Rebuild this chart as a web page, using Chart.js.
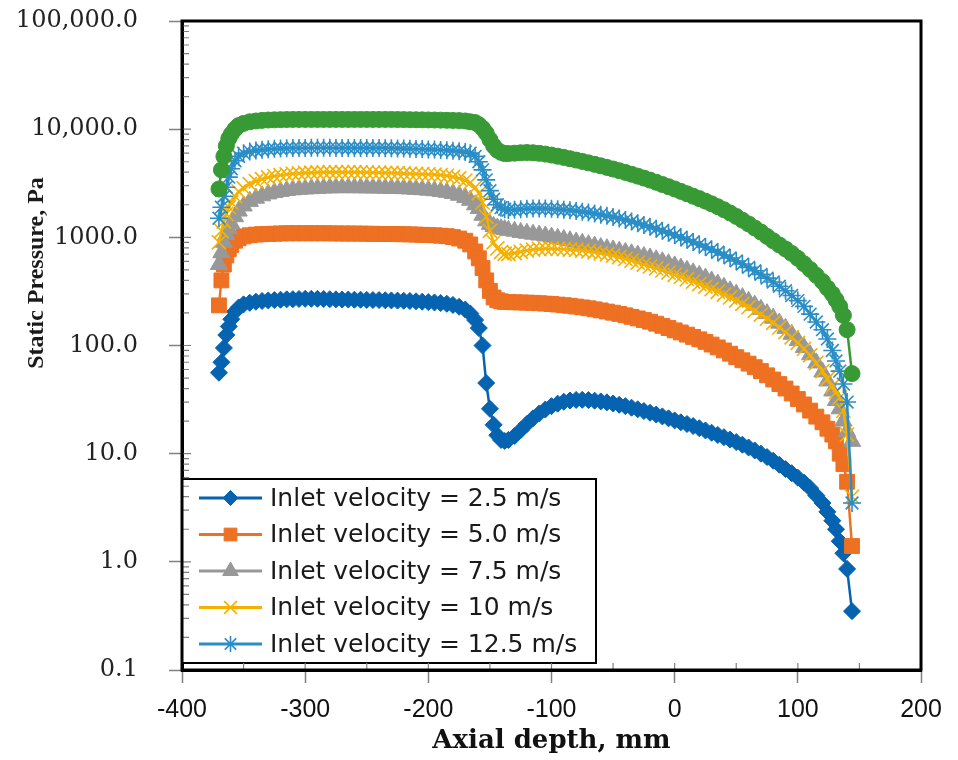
<!DOCTYPE html>
<html>
<head>
<meta charset="UTF-8">
<title>Static Pressure vs Axial depth</title>
<script src="https://cdn.jsdelivr.net/npm/chart.js@4"></script>
<style>
  html, body { margin: 0; padding: 0; background: #fff; }
  #chart { display: block; }
</style>
</head>
<body>
<canvas id="chart" width="958" height="760"></canvas>
<script>
// axial depth in mm, shared by every series
var depth = [
  -370, -368, -366, -364, -362, -360, -357, -354, -350,
  -345, -340, -335, -330, -325, -320, -315, -310, -305, -300,
  -295, -290, -285, -280, -275, -270, -265, -260, -255, -250,
  -245, -240, -235, -230, -225, -220, -215, -210, -205, -200,
  -195, -190, -185, -180, -175, -170,
  -166, -162, -159, -156, -153, -150, -147, -144, -141, -138,
  -135, -130, -125, -120, -115, -110, -105, -100, -95, -90,
  -85, -80, -75, -70, -65, -60, -55, -50, -45, -40,
  -35, -30, -25, -20, -15, -10, -5, 0, 5, 10,
  15, 20, 25, 30, 35, 40, 45, 50, 55, 60,
  65, 70, 75, 80, 85, 90, 95, 100, 105, 110,
  115, 120,
  124, 128, 131, 134, 137, 140, 144
];

// static pressure in Pa for each inlet velocity
var v2_5 = [
  56, 70, 95, 125, 150, 175, 205, 225, 240,
  248, 254, 258, 261, 263, 265, 267, 268, 269, 270,
  270, 270, 269, 268, 267, 266, 266, 265, 265, 264,
  263, 263, 262, 261, 260, 259, 258, 256, 254, 252,
  250, 247, 243, 237, 228, 215,
  198, 172, 145, 100, 45, 26, 18.5, 14.8, 13.4, 13.1,
  13.4, 14.6, 16.5, 18.8, 21.2, 23.5, 25.6, 27.5, 29, 30.2,
  31, 31.4, 31.5, 31.3, 30.9, 30.4, 29.8, 29.1, 28.3, 27.5,
  26.6, 25.7, 24.8, 23.9, 23, 22.1, 21.2, 20.3, 19.5, 18.8,
  18, 17.2, 16.4, 15.6, 14.9, 14.2, 13.5, 12.8, 12.1, 11.4,
  10.7, 10, 9.3, 8.6, 7.9, 7.2, 6.6, 6, 5.4, 4.8,
  4.1, 3.5,
  2.9, 2.4, 2.0, 1.55, 1.2, 0.86, 0.35
];
var v5_0 = [
  235, 400, 560, 680, 780, 850, 930, 980, 1020,
  1045, 1060, 1070, 1075, 1080, 1085, 1090, 1090, 1090, 1090,
  1090, 1090, 1090, 1088, 1086, 1085, 1084, 1083, 1082, 1080,
  1078, 1076, 1074, 1072, 1070, 1068, 1065, 1060, 1055, 1050,
  1045, 1035, 1025, 1005, 975, 930,
  860, 740, 640, 520, 400, 320, 278, 262, 256, 253,
  252, 251, 250, 249, 248, 246, 244, 242, 239, 236,
  233, 229, 225, 221, 216, 211, 206, 201, 196, 190,
  184, 178, 172, 166, 159, 152, 145, 138, 132, 126,
  120, 114, 108, 102, 96, 90, 84, 78, 73, 68,
  63, 58, 53, 48.5, 44, 40, 36, 32, 28.5, 25,
  22, 19.5,
  17, 15, 13, 10, 8, 5.5, 1.4
];
var v7_5 = [
  560, 720, 900, 1060, 1200, 1340, 1550, 1750, 1950,
  2150, 2300, 2420, 2520, 2600, 2660, 2710, 2750, 2780, 2800,
  2820, 2840, 2860, 2870, 2880, 2880, 2880, 2880, 2875, 2870,
  2865, 2860, 2850, 2840, 2830, 2820, 2800, 2780, 2760, 2730,
  2700, 2660, 2610, 2540, 2450, 2330,
  2200, 2000, 1850, 1600, 1420, 1320, 1260, 1220, 1200, 1180,
  1160, 1140, 1110, 1090, 1070, 1050, 1030, 1005, 980, 955,
  930, 905, 880, 855, 830, 805, 785, 765, 745, 725,
  705, 685, 665, 645, 620, 595, 570, 545, 520, 495,
  470, 445, 420, 395, 370, 345, 320, 298, 277, 256,
  236, 216, 197, 179, 161, 144, 127, 111, 96, 82,
  69, 57,
  47, 38, 31, 26, 20, 16, 13
];
var v10 = [
  900, 1150, 1400, 1650, 1900, 2100, 2400, 2650, 2850,
  3100, 3300, 3450, 3580, 3680, 3760, 3820, 3870, 3910, 3940,
  3960, 3980, 3990, 4000, 4000, 4000, 4000, 4000, 3990, 3980,
  3970, 3960, 3950, 3940, 3920, 3900, 3880, 3860, 3840, 3820,
  3800, 3760, 3700, 3620, 3500, 3350,
  3200, 2900, 2550, 2100, 1550, 1150, 900, 790, 730, 705,
  700, 715, 735, 755, 770, 780, 785, 785, 782, 778,
  772, 764, 754, 742, 728, 712, 695, 677, 655, 632,
  608, 584, 560, 538, 516, 494, 472, 450, 430, 410,
  390, 370, 351, 332, 314, 296, 278, 260, 243, 226,
  209, 193, 177, 162, 147, 133, 119, 106, 93, 81,
  69, 58,
  49, 42, 37, 33, 25, 15, 4
];
var v12_5 = [
  1500, 1900, 2400, 2900, 3600, 4300, 5100, 5600, 6000,
  6200, 6350, 6450, 6520, 6580, 6620, 6650, 6680, 6700, 6710,
  6720, 6720, 6720, 6720, 6710, 6700, 6700, 6700, 6695, 6690,
  6690, 6680, 6670, 6660, 6640, 6620, 6600, 6570, 6540, 6500,
  6470, 6430, 6380, 6320, 6240, 6140,
  6000, 5600, 5000, 4200, 3400, 2700, 2250, 2000, 1880, 1820,
  1790, 1800, 1820, 1840, 1850, 1850, 1845, 1835, 1820, 1800,
  1780, 1755, 1725, 1695, 1660, 1620, 1580, 1540, 1495, 1450,
  1400, 1350, 1300, 1250, 1200, 1150, 1100, 1050, 1000, 950,
  905, 860, 815, 770, 728, 686, 645, 605, 566, 528,
  491, 455, 420, 386, 353, 321, 290, 260, 230, 195,
  165, 140,
  115, 90, 72, 58, 44, 30, 3.5
];
var v15 = [
  2800, 4200, 5600, 7000, 8200, 9000, 10000, 10800, 11300,
  11700, 11900, 12050, 12150, 12200, 12250, 12280, 12300, 12300, 12300,
  12300, 12300, 12300, 12300, 12300, 12300, 12300, 12300, 12300, 12300,
  12300, 12300, 12300, 12300, 12280, 12260, 12240, 12220, 12200, 12180,
  12150, 12120, 12080, 12040, 12000, 11900,
  11700, 11500, 11000, 10200, 9200, 8000, 7000, 6400, 6100, 5950,
  5950, 6000, 6050, 6080, 6050, 5980, 5880, 5760, 5620, 5480,
  5330, 5180, 5030, 4880, 4730, 4580, 4430, 4280, 4130, 3980,
  3830, 3680, 3530, 3380, 3230, 3080, 2940, 2800, 2660, 2530,
  2400, 2280, 2160, 2040, 1920, 1800, 1680, 1560, 1440, 1330,
  1220, 1120, 1020, 930, 850, 780, 710, 640, 570, 505,
  445, 390,
  340, 300, 265, 230, 190, 140, 55
];

var seriesLabels = [
  'Inlet velocity = 2.5 m/s',
  'Inlet velocity = 5.0 m/s',
  'Inlet velocity = 7.5 m/s',
  'Inlet velocity = 10 m/s',
  'Inlet velocity = 12.5 m/s',
  'Inlet velocity = 15 m/s'
];
var legendCount = 5; // the green series has no legend entry in the figure

var yTickValues = [0.1, 1, 10, 100, 1000, 10000, 100000];
var yTickLabels = ['0.1', '1.0', '10.0', '100.0', '1000.0', '10,000.0', '100,000.0'];
var xTitle = 'Axial depth, mm';
var yTitle = 'Static Pressure, Pa';

// look of each series
var colors = ['#0563B0', '#EE7022', '#989898', '#F5B000', '#2A8DC6', '#389A35'];
var markers = ['rectRot', 'rect', 'triangle', 'crossRot', 'star', 'circle'];
var radii = [8.5, 10.5, 10, 10, 9, 8];
var legendRadii = [7.5, 9, 9, 9, 8, 7];

var series = [v2_5, v5_0, v7_5, v10, v12_5, v15];

function isThin(style) {
  return style === 'crossRot' || style === 'star';
}

var datasets = series.map(function(vals, i) {
  return {
    label: seriesLabels[i],
    data: depth.map(function(x, j) { return {x: x, y: vals[j]}; }),
    borderColor: colors[i],
    backgroundColor: colors[i],
    borderWidth: 2.5,
    pointStyle: markers[i],
    pointRadius: radii[i],
    pointBackgroundColor: colors[i],
    pointBorderColor: colors[i],
    pointBorderWidth: isThin(markers[i]) ? 1.6 : 1,
    order: series.length - i
  };
});

// legend box, inner tick marks, frame and y title
var decor = {
  id: 'decor',
  afterDraw: function(chart) {
    var ctx = chart.ctx, a = chart.chartArea;
    var xs = chart.scales.x, ys = chart.scales.y;
    ctx.save();

    // legend
    var lx = a.left, ly = a.bottom - 191, lw = 414, lh = 184;
    ctx.fillStyle = '#fff';
    ctx.fillRect(lx, ly, lw, lh);
    ctx.lineWidth = 2;
    ctx.strokeStyle = '#000';
    ctx.strokeRect(lx, ly, lw, lh);
    ctx.font = '25px "DejaVu Sans"';
    ctx.textBaseline = 'middle';
    ctx.textAlign = 'left';
    for (var i = 0; i < legendCount; i++) {
      var ry = ly + 19 + i * 36.5;
      ctx.strokeStyle = colors[i];
      ctx.lineWidth = 3;
      ctx.beginPath();
      ctx.moveTo(lx + 17, ry);
      ctx.lineTo(lx + 80, ry);
      ctx.stroke();
      ctx.fillStyle = colors[i];
      ctx.lineWidth = isThin(markers[i]) ? 1.6 : 1;
      if (Chart.helpers && Chart.helpers.drawPoint) {
        Chart.helpers.drawPoint(ctx, {pointStyle: markers[i], radius: legendRadii[i], rotation: 0, borderWidth: ctx.lineWidth}, lx + 48.5, ry);
      }
      ctx.fillStyle = '#1a1a1a';
      ctx.fillText(seriesLabels[i], lx + 88, ry + 1);
    }

    // inner ticks
    ctx.strokeStyle = '#808080';
    ctx.lineWidth = 1.2;
    ctx.beginPath();
    for (var d = 0; d < yTickValues.length; d++) {
      var base = yTickValues[d];
      var py0 = ys.getPixelForValue(base);
      ctx.moveTo(a.left, py0);
      ctx.lineTo(a.left + 9, py0);
      if (d === yTickValues.length - 1) break;
      for (var k = 2; k <= 9; k++) {
        var py = ys.getPixelForValue(base * k);
        ctx.moveTo(a.left, py);
        ctx.lineTo(a.left + 7, py);
      }
    }
    for (var xv = -350; xv < 200; xv += 50) {
      var px = xs.getPixelForValue(xv);
      ctx.moveTo(px, a.bottom);
      ctx.lineTo(px, a.bottom - 7);
    }
    ctx.stroke();

    // frame
    ctx.strokeStyle = '#000';
    ctx.lineWidth = 3;
    ctx.strokeRect(a.left, a.top, a.right - a.left, a.bottom - a.top);

    // y axis title
    ctx.translate(37, 273);
    ctx.rotate(-Math.PI / 2);
    ctx.font = 'bold 24px "Liberation Serif"';
    ctx.textAlign = 'center';
    ctx.textBaseline = 'middle';
    ctx.fillStyle = '#1a1a1a';
    ctx.fillText(yTitle, 0, 0);
    ctx.restore();
  }
};

var ctx = document.getElementById('chart').getContext('2d');
var chart = new Chart(ctx, {
  type: 'line',
  data: {datasets: datasets},
  options: {
    responsive: false,
    animation: false,
    devicePixelRatio: 1,
    layout: {padding: {left: 0, top: 21, right: 37, bottom: 0}},
    plugins: {
      legend: {display: false},
      tooltip: {enabled: false}
    },
    scales: {
      x: {
        type: 'linear',
        min: -400,
        max: 200,
        ticks: {
          stepSize: 100,
          padding: 12,
          maxRotation: 0,
          color: '#111',
          font: {family: 'Liberation Sans', size: 25}
        },
        grid: {drawOnChartArea: false, drawTicks: true, tickLength: 13, tickColor: '#808080', tickWidth: 1.5},
        border: {display: true, color: '#000', width: 3},
        title: {
          display: true,
          text: xTitle,
          color: '#111',
          font: {family: 'DejaVu Serif', size: 26, weight: 'bold'},
          padding: {top: 0, bottom: 3}
        },
        afterFit: function(s) { s.height = 90; }
      },
      y: {
        type: 'logarithmic',
        min: 0.1,
        max: 100000,
        afterBuildTicks: function(s) {
          s.ticks = yTickValues.map(function(v) { return {value: v}; });
        },
        ticks: {
          autoSkip: false,
          padding: 31,
          color: '#222',
          font: {family: 'DejaVu Serif', size: 24},
          callback: function(v) { return yTickLabels[yTickValues.indexOf(v)]; }
        },
        grid: {drawOnChartArea: false, drawTicks: true, tickLength: 13, tickColor: '#808080', tickWidth: 1.5},
        border: {display: true, color: '#000', width: 3},
        afterFit: function(s) {
          s.width = 182;
          s.paddingTop = 0;
          s.paddingBottom = 0;
        }
      }
    }
  },
  plugins: [decor]
});
</script>
</body>
</html>
